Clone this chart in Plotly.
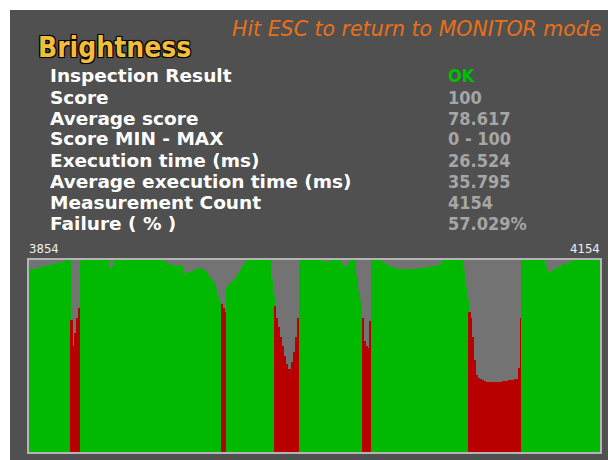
import plotly.graph_objects as go

W, H = 608, 460

# ---------------- data ----------------
first_count = 3854
last_count = 4154
measurements = list(range(3855, 4155))  # 300 measurement ids

scores = [
    95.5, 95.5, 95.5, 95.5, 96, 96, 96.5, 96.5, 97, 97,
    97.5, 97.5, 98, 98, 98.5, 98.5, 99, 99, 99.5, 100,
    100, 100, 69, 55, 62, 70, 75, 99.5, 100, 100,
    100, 100, 100, 100, 100, 100, 100, 100, 100, 100,
    100, 100, 96, 95, 97, 100, 100, 100, 100, 100,
    100, 100, 100, 100, 100, 100, 100, 100, 100, 100,
    100, 100, 100, 100, 100, 100, 100, 100, 100, 100,
    100, 100, 98.5, 98, 98, 97.5, 97.5, 97, 97, 97.5,
    97, 93, 92, 93, 93.5, 94, 94.5, 95, 95.5, 96,
    96, 95.5, 95, 93.5, 92, 90.5, 89.5, 88, 85, 81,
    78, 77, 75, 73, 86, 87, 88, 89, 90, 91.5,
    93, 95, 97, 98.5, 99.5, 100, 100, 100, 100, 100,
    100, 100, 100, 100, 100, 100, 100, 90, 82, 76,
    70, 65, 60, 55, 50, 46, 43, 43, 47, 52,
    60, 70, 100, 100, 100, 100, 100, 100, 100, 100,
    100, 100, 100, 100, 100, 99, 99, 99, 100, 100,
    100, 100, 100, 100, 98, 97, 96.5, 97, 98.5, 100,
    100, 100, 92, 84, 79, 70, 58, 55, 54, 68,
    100, 100, 100, 100, 100, 99, 98.5, 98, 97.5, 97,
    96.5, 96.5, 96, 96, 95.5, 95.5, 95.5, 95.5, 95.5, 95.5,
    95.5, 95.5, 95.5, 95.5, 96, 96, 96, 96, 96, 96.5,
    96.5, 96.5, 97, 97, 97, 97.5, 98, 100, 100, 100,
    100, 100, 100, 100, 100, 100, 100, 100, 95, 86,
    79, 73, 70, 60, 48, 40, 38.5, 38, 37.5, 37,
    36.5, 36.5, 36.5, 36.5, 36.5, 36.5, 36.5, 36.5, 36.5, 37,
    37, 37, 37.5, 37.5, 37.5, 38, 38, 44, 70, 100,
    100, 100, 100, 100, 100, 100, 100, 100, 100, 100,
    100, 97, 94, 92, 94, 95, 95.5, 96, 96.5, 97,
    97.5, 98, 98.5, 99, 99, 99.5, 100, 100, 100, 100,
    100, 100, 100, 100, 100, 100, 100, 100, 100, 100,
]

# measurement ranges judged NG (inclusive)
ng_ranges = [(3877, 3881), (3956, 3958), (3984, 3996), (4030, 4034), (4086, 4113)]

title_text = "Brightness"
hint_text = "Hit ESC to return to MONITOR mode"
labels = [
    "Inspection Result", "Score", "Average score", "Score MIN - MAX",
    "Execution time (ms)", "Average execution time (ms)",
    "Measurement Count", "Failure ( % )",
]
values = ["OK", "100", "78.617", "0 - 100", "26.524", "35.795", "4154", "57.029%"]

# ---------------- style ----------------
OK_GREEN = "#00B900"
NG_RED = "#B90000"
PANEL = "#505050"
PLOT_BG = "#737373"
FRAME = "#B4B4B4"


def is_ng(m):
    return any(a <= m <= b for a, b in ng_ranges)


colors = [NG_RED if is_ng(m) else OK_GREEN for m in measurements]


def px(x):
    return x / W


def py(y):
    return 1 - y / H


fig = go.Figure()
fig.add_trace(go.Bar(
    x=measurements, y=scores, width=1,
    marker=dict(color=colors, line=dict(width=0)),
    hoverinfo="x+y",
))

shapes = [
    dict(type="rect", xref="paper", yref="paper", x0=px(10), x1=1, y0=0, y1=py(10),
         fillcolor=PANEL, line=dict(width=0), layer="below"),
    dict(type="rect", xref="paper", yref="paper", x0=px(29), x1=px(600), y0=py(452), y1=py(260),
         fillcolor=PLOT_BG, line=dict(width=0), layer="below"),
    dict(type="rect", xref="paper", yref="paper", x0=px(28), x1=px(601), y0=py(453), y1=py(259),
         fillcolor="rgba(0,0,0,0)", line=dict(width=2, color=FRAME), layer="above"),
]

ann = []
ann.append(dict(text=hint_text, x=px(230), y=py(29), xref="paper", yref="paper",
                xanchor="left", yanchor="middle", showarrow=False,
                font=dict(family="DejaVu Sans", size=20.5, color="#E8701A", style="italic")))
ann.append(dict(text=title_text, x=px(36), y=py(48), xref="paper", yref="paper",
                xanchor="left", yanchor="middle", showarrow=False,
                font=dict(family="Liberation Sans Narrow, DejaVu Sans Condensed, Arial Narrow",
                          size=28, color="#F2BE3A", weight="bold",
                          shadow="-1px -1px 0 #000, 1px -1px 0 #000, -1px 1px 0 #000, 1px 1px 0 #000, 0 0 2px #000")))

row_y = [76, 97, 118, 139, 160, 181, 202, 223]
for lab, val, yy in zip(labels, values, row_y):
    ann.append(dict(text=lab, x=px(48), y=py(yy), xref="paper", yref="paper",
                    xanchor="left", yanchor="middle", showarrow=False,
                    font=dict(family="DejaVu Sans", size=18.5, color="#FFFFFF", weight="bold")))
    ann.append(dict(text=val, x=px(446), y=py(yy), xref="paper", yref="paper",
                    xanchor="left", yanchor="middle", showarrow=False,
                    font=dict(family="DejaVu Sans Condensed, Liberation Sans Narrow, DejaVu Sans",
                              size=18, weight="bold",
                              color="#00C000" if val == "OK" else "#A6A6A6")))

ann.append(dict(text=str(first_count), x=px(27), y=py(248), xref="paper", yref="paper",
                xanchor="left", yanchor="middle", showarrow=False,
                font=dict(family="DejaVu Sans Condensed, DejaVu Sans", size=13, color="#F0F0F0")))
ann.append(dict(text=str(last_count), x=px(602), y=py(248), xref="paper", yref="paper",
                xanchor="right", yanchor="middle", showarrow=False,
                font=dict(family="DejaVu Sans Condensed, DejaVu Sans", size=13, color="#F0F0F0")))

fig.update_layout(
    width=W, height=H, margin=dict(l=0, r=0, t=0, b=0),
    paper_bgcolor="#FFFFFF", plot_bgcolor="rgba(0,0,0,0)",
    showlegend=False, bargap=0,
    xaxis=dict(domain=[px(29), px(600)], range=[first_count + 0.5, last_count + 0.5],
               visible=False, fixedrange=True),
    yaxis=dict(domain=[py(452), py(260)], range=[0, 100], visible=False, fixedrange=True),
    shapes=shapes, annotations=ann,
)

fig.write_html(
    "out.html",
    config={"displayModeBar": False},
    post_script="document.body.style.margin='0';document.body.style.overflow='hidden';",
)
